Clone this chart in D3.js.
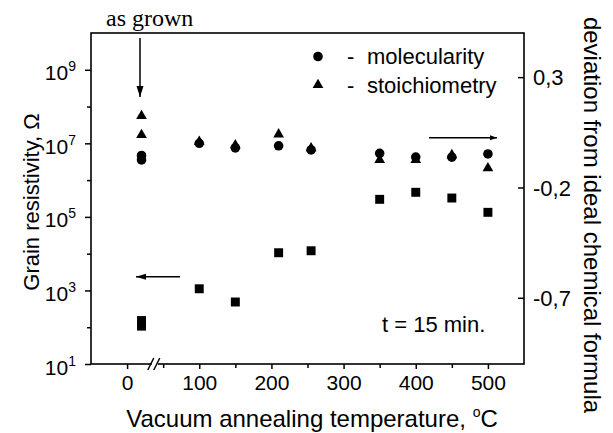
<!DOCTYPE html>
<html><head><meta charset="utf-8">
<script src="https://cdn.jsdelivr.net/npm/d3@7"></script>
<style>body{margin:0;background:#fff}svg{display:block}</style>
</head><body>
<svg id="c" width="613" height="433"></svg>
<script>
// ---- data ----
const resTemps = [20, 20, 100, 150, 210, 255, 350, 400, 450, 500];
const resistivity = [152, 107, 1110, 485, 10600, 12000, 300000, 466000, 326000, 133000];
const molTemps = [20, 20, 100, 150, 210, 255, 350, 400, 450, 500];
const molecularity = [-0.055, -0.075, 0.0, -0.021, -0.011, -0.03, -0.045, -0.062, -0.063, -0.048];
const stoTemps = [20, 20, 100, 150, 210, 255, 350, 400, 450, 500];
const stoichiometry = [0.124, 0.038, 0.007, -0.008, 0.041, -0.022, -0.075, -0.075, -0.053, -0.113];
const xTicks = [0, 100, 200, 300, 400, 500];
const xMinor = [50, 150, 250, 350, 450];
const leftTicks = [1, 3, 5, 7, 9];
const leftMinor = [2, 4, 6, 8];
const rightTicks = [0.3, -0.2, -0.7];

const svg = d3.select("#c");
const L = 91, R = 524, T = 33, B = 364;
const x = d3.scaleLinear().domain([-50, 550]).range([L, R]);
const yL = d3.scaleLog().domain([1e1, 1e10]).range([B, T]);
const yR = d3.scaleLinear().domain([-1.0, 0.5]).range([B, T]);
const font = "'Liberation Sans', Arial, sans-serif";

// frame
svg.append("rect").attr("x", L).attr("y", T).attr("width", R - L).attr("height", B - T)
  .attr("fill", "none").attr("stroke", "#000").attr("stroke-width", 1.6);

// bottom axis
const gx = svg.append("g").attr("transform", `translate(0,${B})`)
  .call(d3.axisBottom(x).tickValues(xTicks).tickSize(5).tickPadding(6).tickFormat(d3.format("d")));
gx.select(".domain").remove();
gx.selectAll("line").attr("stroke-width", 1.5);
gx.selectAll("text").attr("font-family", font).attr("font-size", 21).attr("fill", "#000");
svg.append("g").attr("transform", `translate(0,${B})`)
  .call(d3.axisBottom(x).tickValues(xMinor).tickSize(4).tickFormat(""))
  .call(g => g.select(".domain").remove())
  .selectAll("line").attr("stroke-width", 1.5);

// break marks
const bx = x(37);
svg.append("rect").attr("x", bx - 2).attr("y", B - 3).attr("width", 6).attr("height", 6).attr("fill", "#fff");
[bx - 3, bx + 3].forEach(cx => {
  svg.append("line").attr("x1", cx - 3).attr("y1", B + 6).attr("x2", cx + 3).attr("y2", B - 6)
    .attr("stroke", "#000").attr("stroke-width", 1.5);
});

// left axis
const gl = svg.append("g").attr("transform", `translate(${L},0)`)
  .call(d3.axisLeft(yL).tickValues(leftTicks.map(e => Math.pow(10, e))).tickSize(6).tickFormat(""));
gl.select(".domain").remove();
gl.selectAll("line").attr("stroke-width", 1.5);
gl.selectAll(".tick").each(function (d) {
  const t = d3.select(this).append("text").attr("x", -15).attr("y", 10)
    .attr("text-anchor", "end").attr("font-family", font).attr("font-size", 21).attr("fill", "#000");
  t.append("tspan").text("10");
  t.append("tspan").attr("dy", -9).attr("font-size", 14).text(Math.round(Math.log10(d)));
});
svg.append("g").attr("transform", `translate(${L},0)`)
  .call(d3.axisLeft(yL).tickValues(leftMinor.map(e => Math.pow(10, e))).tickSize(4).tickFormat(""))
  .call(g => g.select(".domain").remove())
  .selectAll("line").attr("stroke-width", 1.5);

// right axis (ticks inward)
const gr = svg.append("g").attr("transform", `translate(${R},0)`)
  .call(d3.axisRight(yR).tickValues(rightTicks).tickSize(-6).tickPadding(15)
    .tickFormat(d => d3.format(".1f")(d).replace(".", ",").replace("\u2212", "-")));
gr.select(".domain").remove();
gr.selectAll("line").attr("stroke-width", 1.5);
gr.selectAll("text").attr("font-family", font).attr("font-size", 22).attr("fill", "#000")
  .attr("x", 9).attr("dy", "0.35em");

// axis titles
svg.append("text").attr("x", 312).attr("y", 427).attr("text-anchor", "middle")
  .attr("font-family", font).attr("font-size", 24).attr("fill", "#000")
  .call(t => {
    t.append("tspan").text("Vacuum annealing temperature, ");
    t.append("tspan").attr("dy", -10).attr("font-size", 14).text("o");
    t.append("tspan").attr("dy", 10).text("C");
  });
svg.append("text").attr("transform", "translate(39,202) rotate(-90)").attr("text-anchor", "middle")
  .attr("font-family", font).attr("font-size", 22).attr("fill", "#000").text("Grain resistivity, Ω");
svg.append("text").attr("transform", "translate(584,215) rotate(90)").attr("text-anchor", "middle")
  .attr("font-family", font).attr("font-size", 24).attr("fill", "#000").text("deviation from ideal chemical formula");

// markers
const circ = d3.symbol().type(d3.symbolCircle).size(72);
const tri = d3.symbol().type(d3.symbolTriangle).size(50);
const sq = d3.symbol().type(d3.symbolSquare).size(80);
svg.append("g").selectAll("path").data(molTemps.map((t, i) => [t, molecularity[i]])).join("path")
  .attr("d", circ).attr("transform", d => `translate(${x(d[0])},${yR(d[1])})`).attr("fill", "#000");
svg.append("g").selectAll("path").data(stoTemps.map((t, i) => [t, stoichiometry[i]])).join("path")
  .attr("d", tri).attr("transform", d => `translate(${x(d[0])},${yR(d[1])})`).attr("fill", "#000");
svg.append("g").selectAll("path").data(resTemps.map((t, i) => [t, resistivity[i]])).join("path")
  .attr("d", sq).attr("transform", d => `translate(${x(d[0])},${yL(d[1])})`).attr("fill", "#000");

// legend
svg.append("path").attr("d", circ).attr("transform", "translate(318,56.5)");
svg.append("path").attr("d", tri).attr("transform", "translate(318,85)");
[["molecularity", 64], ["stoichiometry", 92.5]].forEach(([s, yy]) => {
  svg.append("text").attr("x", 347).attr("y", yy).attr("font-family", font).attr("font-size", 22).text("-");
  svg.append("text").attr("x", 367).attr("y", yy).attr("font-family", font).attr("font-size", 22).text(s);
});

// annotations
svg.append("text").attr("x", 106).attr("y", 26).attr("font-family", "'Liberation Serif', 'Times New Roman', serif")
  .attr("font-size", 24).text("as grown");
function arrow(x1, y1, x2, y2, hl, hw) {
  svg.append("line").attr("x1", x1).attr("y1", y1).attr("x2", x2).attr("y2", y2)
    .attr("stroke", "#000").attr("stroke-width", 1.5);
  const a = Math.atan2(y2 - y1, x2 - x1), c = Math.cos(a), s = Math.sin(a);
  const bxp = x2 - hl * c, byp = y2 - hl * s;
  svg.append("path").attr("d",
    `M${x2},${y2}L${bxp - hw * s},${byp + hw * c}L${bxp + hw * s},${byp - hw * c}Z`).attr("fill", "#000");
}
arrow(140, 38, 140, 97, 11, 3.5);
arrow(180, 276.7, 136, 276.7, 10, 3);
arrow(429, 137.7, 497, 137.7, 7, 2.5);

svg.append("text").attr("x", 382).attr("y", 332).attr("font-family", font).attr("font-size", 22).text("t = 15 min.");
</script>
</body></html>
